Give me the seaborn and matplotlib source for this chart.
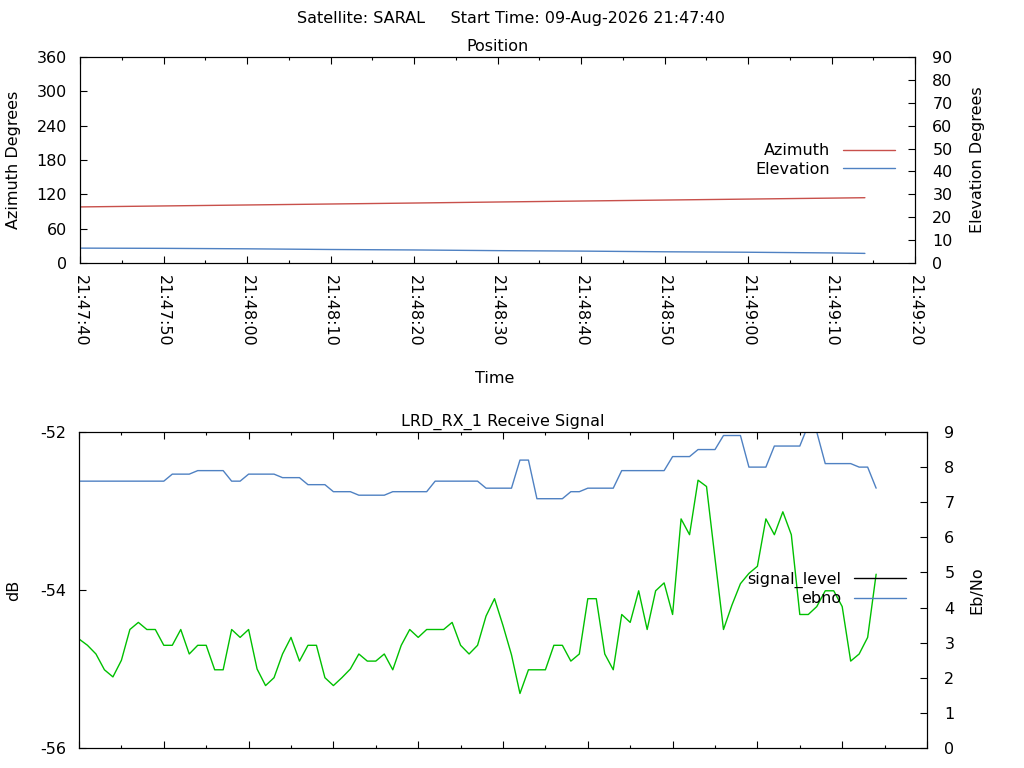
import pandas as pd
import matplotlib
matplotlib.use("Agg")
import matplotlib.pyplot as plt
import matplotlib.dates as mdates
from matplotlib.lines import Line2D
import seaborn as sns

# Pass data
start_time = "2026-08-09 21:47:40"

pos_sec = [0, 10, 20, 30, 40, 50, 60, 70, 80, 90, 94]
azimuth = [98.0, 99.7, 101.4, 103.1, 104.8, 106.6, 108.3, 110.0, 111.7, 113.4, 114.1]
elevation = [6.5, 6.4, 6.2, 5.9, 5.7, 5.4, 5.2, 4.9, 4.7, 4.4, 4.2]

sig_sec = list(range(95))
signal_level = [
    -54.62, -54.70, -54.81, -55.01, -55.10, -54.89, -54.50, -54.41, -54.50, -54.50,
    -54.70, -54.70, -54.50, -54.81, -54.70, -54.70, -55.01, -55.01, -54.50, -54.60,
    -54.50, -55.00, -55.21, -55.11, -54.81, -54.60, -54.90, -54.70, -54.70, -55.11,
    -55.21, -55.11, -55.00, -54.81, -54.90, -54.90, -54.81, -55.01, -54.70, -54.50,
    -54.60, -54.50, -54.50, -54.50, -54.41, -54.70, -54.81, -54.70, -54.33, -54.11,
    -54.45, -54.82, -55.31, -55.01, -55.01, -55.01, -54.70, -54.70, -54.90, -54.81,
    -54.11, -54.11, -54.81, -55.01, -54.31, -54.41, -54.01, -54.50, -54.01, -53.91,
    -54.31, -53.10, -53.30, -52.61, -52.69, -53.60, -54.50, -54.19, -53.92, -53.79,
    -53.70, -53.10, -53.30, -53.01, -53.30, -54.31, -54.31, -54.21, -54.01, -54.01,
    -54.21, -54.90, -54.81, -54.60, -53.80,
]
ebno = [
    7.6, 7.6, 7.6, 7.6, 7.6, 7.6, 7.6, 7.6, 7.6, 7.6,
    7.6, 7.8, 7.8, 7.8, 7.9, 7.9, 7.9, 7.9, 7.6, 7.6,
    7.8, 7.8, 7.8, 7.8, 7.7, 7.7, 7.7, 7.5, 7.5, 7.5,
    7.3, 7.3, 7.3, 7.2, 7.2, 7.2, 7.2, 7.3, 7.3, 7.3,
    7.3, 7.3, 7.6, 7.6, 7.6, 7.6, 7.6, 7.6, 7.4, 7.4,
    7.4, 7.4, 8.2, 8.2, 7.1, 7.1, 7.1, 7.1, 7.3, 7.3,
    7.4, 7.4, 7.4, 7.4, 7.9, 7.9, 7.9, 7.9, 7.9, 7.9,
    8.3, 8.3, 8.3, 8.5, 8.5, 8.5, 8.9, 8.9, 8.9, 8.0,
    8.0, 8.0, 8.6, 8.6, 8.6, 8.6, 9.2, 9.0, 8.1, 8.1,
    8.1, 8.1, 8.0, 8.0, 7.4,
]

RED = "#c8504b"
BLUE = "#4f81c2"
GREEN = "#00c000"

# Style
sns.set_style("ticks")
plt.rcParams["font.family"] = ["DejaVu Sans"]
plt.rcParams["font.size"] = 11.5
plt.rcParams["axes.unicode_minus"] = False
plt.rcParams["text.color"] = "black"
plt.rcParams["axes.labelcolor"] = "black"
plt.rcParams["axes.edgecolor"] = "black"
plt.rcParams["axes.linewidth"] = 0.8
plt.rcParams["xtick.color"] = "black"
plt.rcParams["ytick.color"] = "black"

t0 = pd.Timestamp(start_time)
pos = pd.DataFrame({
    "time": t0 + pd.to_timedelta(pos_sec, unit="s"),
    "Azimuth": azimuth,
    "Elevation": elevation,
})
sig = pd.DataFrame({
    "time": t0 + pd.to_timedelta(sig_sec, unit="s"),
    "signal_level": signal_level,
    "ebno": ebno,
})

fig = plt.figure(figsize=(10.24, 7.68), dpi=100)
ax1 = fig.add_axes([80 / 1024, 1 - 263 / 768, 835 / 1024, 206 / 768])
ax3 = fig.add_axes([79 / 1024, 1 - 748 / 768, 848 / 1024, 316 / 768])

fig.text(0.499, 1 - 23 / 768, "Satellite: SARAL     Start Time: 09-Aug-2026 21:47:40",
         ha="center", va="baseline")

# Position plot
sns.lineplot(data=pos, x="time", y="Azimuth", ax=ax1, color=RED, linewidth=1)
ax2 = ax1.twinx()
sns.lineplot(data=pos, x="time", y="Elevation", ax=ax2, color=BLUE, linewidth=1)

# Receive signal plot
sns.lineplot(data=sig, x="time", y="signal_level", ax=ax3, color=GREEN, linewidth=1)
ax4 = ax3.twinx()
sns.lineplot(data=sig, x="time", y="ebno", ax=ax4, color=BLUE, linewidth=1)

t_end = t0 + pd.Timedelta(seconds=100)
for ax in (ax1, ax3):
    ax.set_xlim(t0, t_end)
    ax.xaxis.set_major_locator(mdates.SecondLocator(bysecond=range(0, 60, 10)))
    ax.xaxis.set_minor_locator(mdates.SecondLocator(bysecond=range(0, 60, 5)))
    ax.xaxis.set_major_formatter(mdates.DateFormatter("%H:%M:%S"))
    ax.tick_params(axis="x", which="major", direction="in", top=True, bottom=True,
                   length=5, width=0.8, pad=8.6)
    ax.tick_params(axis="x", which="minor", direction="in", top=True, bottom=True,
                   length=2.5, width=0.8)
    ax.tick_params(axis="y", direction="in", left=True, right=False,
                   length=5, width=0.8, pad=9.4)

ax1.tick_params(axis="x", labelrotation=270)
ax3.tick_params(axis="x", labelbottom=False)

ax1.set_ylim(0, 360)
ax1.set_yticks(range(0, 361, 60))
ax2.set_ylim(0, 90)
ax2.set_yticks(range(0, 91, 10))
ax3.set_ylim(-56, -52)
ax3.set_yticks([-56, -54, -52])
ax4.set_ylim(0, 9)
ax4.set_yticks(range(0, 10))
for ax in (ax2, ax4):
    ax.tick_params(axis="y", direction="in", right=True, left=False,
                   length=5, width=0.8, pad=12.5)

# Titles and labels
ax1.set_title("Position", pad=4.3, fontsize=11.5)
ax3.set_title("LRD_RX_1 Receive Signal", pad=4.3, fontsize=11.5)

ax1.set_xlabel("Time")
ax1.xaxis.set_label_coords(0.497, -0.563)
ax1.xaxis.label.set_va("center")
ax3.set_xlabel("")

ax1.set_ylabel("Azimuth Degrees")
ax1.yaxis.set_label_coords(-0.080, 0.5)
ax2.set_ylabel("Elevation Degrees")
ax2.yaxis.set_label_coords(1.0754, 0.5)
ax3.set_ylabel("dB")
ax3.yaxis.set_label_coords(-0.0772, 0.5)
ax4.set_ylabel("Eb/No")
ax4.yaxis.set_label_coords(1.059, 0.5)
for ax in (ax1, ax2, ax3, ax4):
    ax.yaxis.label.set_va("center")

# Legends (gnuplot-like, no frame, text right aligned)
leg_kw = dict(loc="center right", frameon=False, markerfirst=False,
              handlelength=3.25, handletextpad=0.8, labelspacing=0.2,
              borderpad=0, borderaxespad=0, fontsize=11.5)
ax2.legend(handles=[Line2D([], [], color=RED, lw=1), Line2D([], [], color=BLUE, lw=1)],
           labels=["Azimuth", "Elevation"], bbox_to_anchor=(0.976, 0.5), **leg_kw)
ax4.legend(handles=[Line2D([], [], color="black", lw=1), Line2D([], [], color=BLUE, lw=1)],
           labels=["signal_level", "ebno"], bbox_to_anchor=(0.975, 0.503), **leg_kw)

plt.savefig("out.png", dpi=100)
plt.close()
